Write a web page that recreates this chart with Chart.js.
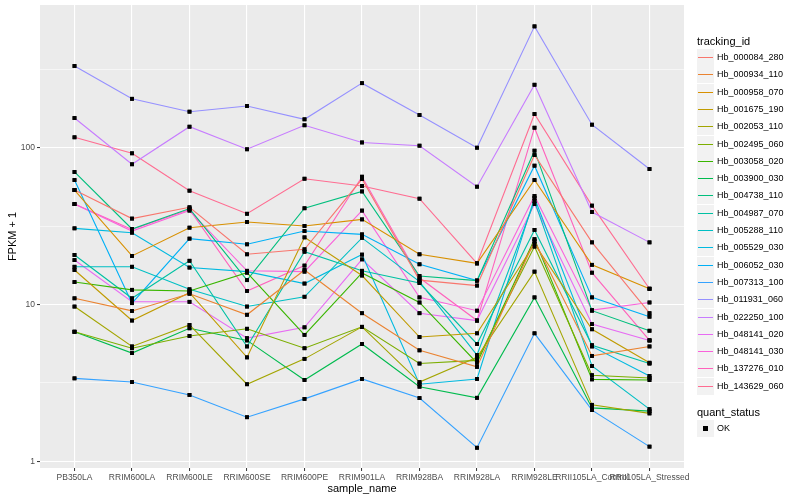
<!DOCTYPE html>
<html>
<head>
<meta charset="utf-8">
<script src="https://cdn.jsdelivr.net/npm/chart.js@4.4.0/dist/chart.umd.min.js"></script>
<style>
html, body { margin: 0; padding: 0; background: #fff; }
#wrap { position: relative; width: 800px; height: 500px; font-family: "Liberation Sans", Arial, sans-serif; }
#grafico { position: absolute; left: 0; top: 0; }
#legenda { position: absolute; left: 697px; top: 0; width: 103px; height: 500px; }
.tit { position: absolute; left: 0; font-size: 11px; color: #000; height: 14px; line-height: 14px; }
.chave { position: absolute; left: 0; width: 17px; height: 17px; background: #F2F2F2; }
.chave span { position: absolute; left: 1px; right: 1px; top: 8px; height: 1px; }
.chave b { position: absolute; left: 6px; top: 6px; width: 5px; height: 5px; background: #000; }
.rot { position: absolute; left: 20px; font-size: 9px; color: #000; height: 17px; line-height: 17px; white-space: nowrap; }
</style>
</head>
<body>
<div id="wrap">
  <canvas id="grafico" width="800" height="500"></canvas>
  <div id="legenda"></div>
</div>
<script>
var amostras = ['PB350LA', 'RRIM600LA', 'RRIM600LE', 'RRIM600SE', 'RRIM600PE', 'RRIM901LA',
                'RRIM928BA', 'RRIM928LA', 'RRIM928LE', 'RRII105LA_Control', 'RRII105LA_Stressed'];

var ids = ['Hb_000084_280', 'Hb_000934_110', 'Hb_000958_070', 'Hb_001675_190', 'Hb_002053_110',
           'Hb_002495_060', 'Hb_003058_020', 'Hb_003900_030', 'Hb_004738_110', 'Hb_004987_070',
           'Hb_005288_110', 'Hb_005529_030', 'Hb_006052_030', 'Hb_007313_100', 'Hb_011931_060',
           'Hb_022250_100', 'Hb_048141_020', 'Hb_048141_030', 'Hb_137276_010', 'Hb_143629_060'];

var cores = ['#F8766D', '#EA8331', '#D89000', '#C09B00', '#A3A500', '#7CAE00', '#39B600', '#00BB4E',
             '#00BF7D', '#00C1A3', '#00BFC4', '#00BAE0', '#00B0F6', '#35A2FF', '#9590FF', '#C77CFF',
             '#E76BF3', '#FA62DB', '#FF62BC', '#FF6C91'];

// FPKM + 1 por amostra
var hb_000084_280 = [53.7, 35.3, 41.7, 20.9, 22.5, 63.1, 14.3, 13.2, 89.8, 24.9, 8.8];
var hb_000934_110 = [10.95, 9.1, 11.7, 8.6, 16.6, 8.8, 5.1, 4.0, 25.4, 4.7, 5.4];
var hb_000958_070 = [53.7, 20.4, 30.9, 33.6, 31.7, 34.9, 20.9, 18.3, 62.2, 17.9, 12.6];
var hb_001675_190 = [16.6, 7.9, 11.9, 4.6, 26.8, 15.3, 6.2, 6.55, 24.3, 6.95, 4.25];
var hb_002053_110 = [9.7, 5.4, 7.4, 3.1, 4.5, 7.2, 3.2, 4.6, 16.2, 2.29, 2.02];
var hb_002495_060 = [6.7, 5.26, 6.3, 7.0, 5.26, 7.2, 4.2, 4.4, 23.4, 3.54, 3.4];
var hb_003058_020 = [13.9, 12.4, 12.2, 15.95, 6.4, 15.9, 10.3, 4.24, 26.1, 3.33, 3.3];
var hb_003900_030 = [6.7, 4.9, 7.05, 5.9, 3.3, 5.6, 2.99, 2.54, 11.1, 2.19, 2.09];
var hb_004738_110 = [70, 30.3, 40.9, 14.3, 41.1, 52.6, 15.2, 14.2, 95.7, 9.13, 6.8];
var hb_004987_070 = [20.7, 10.95, 19.0, 5.4, 21.7, 16.4, 13.7, 5.6, 29.9, 5.5, 4.2];
var hb_005288_110 = [17.4, 17.4, 12.5, 9.7, 11.2, 26.6, 14.0, 4.76, 45.7, 4.05, 2.15];
var hb_005529_030 = [30.6, 28.7, 17.2, 16.2, 13.6, 20.8, 3.1, 3.35, 47.8, 5.4, 3.5];
var hb_006052_030 = [62.2, 10.2, 26.3, 24.2, 29.4, 28.0, 18.05, 14.2, 76.8, 11.1, 8.36];
var hb_007313_100 = [3.38, 3.2, 2.65, 1.91, 2.5, 3.35, 2.53, 1.22, 6.55, 2.12, 1.24];
var hb_011931_060 = [332, 205, 169.7, 184.5, 151.7, 258, 161.6, 100, 594, 140.2, 73.1];
var hb_022250_100 = [154.6, 78.4, 136.1, 97.7, 139, 108, 103, 56.4, 252, 38.9, 24.9];
var hb_048141_020 = [19.2, 10.4, 10.4, 6.1, 7.15, 19.4, 8.8, 7.9, 43.7, 7.5, 5.9];
var hb_048141_030 = [43.7, 29.4, 39.7, 16.4, 16.2, 39.7, 11.1, 9.13, 49.2, 9.2, 10.3];
var hb_137276_010 = [43.7, 30.1, 40.4, 12.2, 17.7, 65.3, 14.8, 7.9, 134.1, 15.95, 5.9];
var hb_143629_060 = [116.5, 92.1, 53.2, 37.9, 63.4, 57, 47.3, 18.3, 164, 42.7, 12.6];

var series = [hb_000084_280, hb_000934_110, hb_000958_070, hb_001675_190, hb_002053_110,
              hb_002495_060, hb_003058_020, hb_003900_030, hb_004738_110, hb_004987_070,
              hb_005288_110, hb_005529_030, hb_006052_030, hb_007313_100, hb_011931_060,
              hb_022250_100, hb_048141_020, hb_048141_030, hb_137276_010, hb_143629_060];

var marcasY = [1, 10, 100];
var menoresY = [3.162, 31.62, 316.2];

var fonte = '"Liberation Sans", Arial, sans-serif';

// fundo cinza do painel
var fundoPainel = {
    id: 'fundoPainel',
    beforeDraw: function(chart) {
        var a = chart.chartArea;
        var ctx = chart.ctx;
        ctx.save();
        ctx.fillStyle = '#EBEBEB';
        ctx.fillRect(a.left, a.top, a.right - a.left, a.bottom - a.top);
        ctx.restore();
    }
};

// pontos por cima de todas as linhas
var pontosPorCima = {
    id: 'pontosPorCima',
    afterDatasetsDraw: function(chart) {
        chart.getSortedVisibleDatasetMetas().forEach(function(meta) {
            meta.data.forEach(function(p) { p.draw(chart.ctx, chart.chartArea); });
        });
    }
};

function ehMaior(ctx) {
    return ctx.tick && marcasY.indexOf(ctx.tick.value) >= 0;
}

var grafico = new Chart(document.getElementById('grafico').getContext('2d'), {
    type: 'line',
    data: {
        datasets: ids.map(function(id, i) {
            return {
                label: id,
                data: series[i].map(function(v, j) { return { x: j, y: v }; }),
                borderColor: cores[i],
                backgroundColor: cores[i],
                borderWidth: 1.1,
                pointStyle: 'rect',
                pointRadius: 2.7,
                pointBackgroundColor: '#000',
                pointBorderColor: '#000',
                pointBorderWidth: 0,
                tension: 0,
                fill: false
            };
        })
    },
    options: {
        responsive: false,
        animation: false,
        layout: { padding: { top: 5, right: 116, left: 0, bottom: 0 } },
        plugins: {
            legend: { display: false },
            tooltip: { enabled: false }
        },
        scales: {
            x: {
                type: 'linear',
                min: -0.6,
                max: 10.6,
                afterBuildTicks: function(s) {
                    s.ticks = amostras.map(function(a, i) { return { value: i }; });
                },
                afterFit: function(s) {
                    s.height = 32;
                    s.paddingLeft = 0;
                    s.paddingRight = 0;
                },
                ticks: {
                    callback: function(v) { return amostras[v]; },
                    autoSkip: false,
                    maxRotation: 0,
                    minRotation: 0,
                    color: '#4D4D4D',
                    font: { size: 8.5, family: fonte },
                    padding: 2
                },
                grid: { color: '#FFFFFF', lineWidth: 1.1, tickLength: 3, tickColor: '#333333', tickWidth: 1 },
                border: { display: false },
                title: {
                    display: true,
                    text: 'sample_name',
                    color: '#000',
                    font: { size: 11, family: fonte },
                    padding: { top: 0, bottom: 4 }
                }
            },
            y: {
                type: 'logarithmic',
                min: 0.906,
                max: 813,
                afterBuildTicks: function(s) {
                    s.ticks = marcasY.concat(menoresY).map(function(v) { return { value: v }; });
                },
                afterFit: function(s) {
                    s.width = 40;
                    s.paddingTop = 0;
                    s.paddingBottom = 0;
                },
                ticks: {
                    callback: function(v) { return marcasY.indexOf(v) >= 0 ? String(v) : ''; },
                    color: '#4D4D4D',
                    font: { size: 8.5, family: fonte },
                    padding: 2
                },
                grid: {
                    color: '#FFFFFF',
                    lineWidth: function(ctx) { return ehMaior(ctx) ? 1.1 : 0.55; },
                    tickLength: 3,
                    tickColor: function(ctx) { return ehMaior(ctx) ? '#333333' : 'rgba(0,0,0,0)'; },
                    tickWidth: 1
                },
                border: { display: false },
                title: {
                    display: true,
                    text: 'FPKM + 1',
                    color: '#000',
                    font: { size: 11, family: fonte },
                    padding: { top: 6, bottom: 0 }
                }
            }
        }
    },
    plugins: [fundoPainel, pontosPorCima]
});

// legenda no estilo ggplot, com posicoes inteiras para as linhas ficarem nitidas
var leg = document.getElementById('legenda');
var html = '<div class="tit" style="top:34px">tracking_id</div>';
ids.forEach(function(id, i) {
    var topo = Math.round(49 + i * 17.3);
    html += '<div class="chave" style="top:' + topo + 'px"><span style="background:' + cores[i] + '"></span></div>';
    html += '<div class="rot" style="top:' + topo + 'px">' + id + '</div>';
});
html += '<div class="tit" style="top:405px">quant_status</div>';
html += '<div class="chave" style="top:420px"><b></b></div><div class="rot" style="top:420px">OK</div>';
leg.innerHTML = html;
</script>
</body>
</html>
